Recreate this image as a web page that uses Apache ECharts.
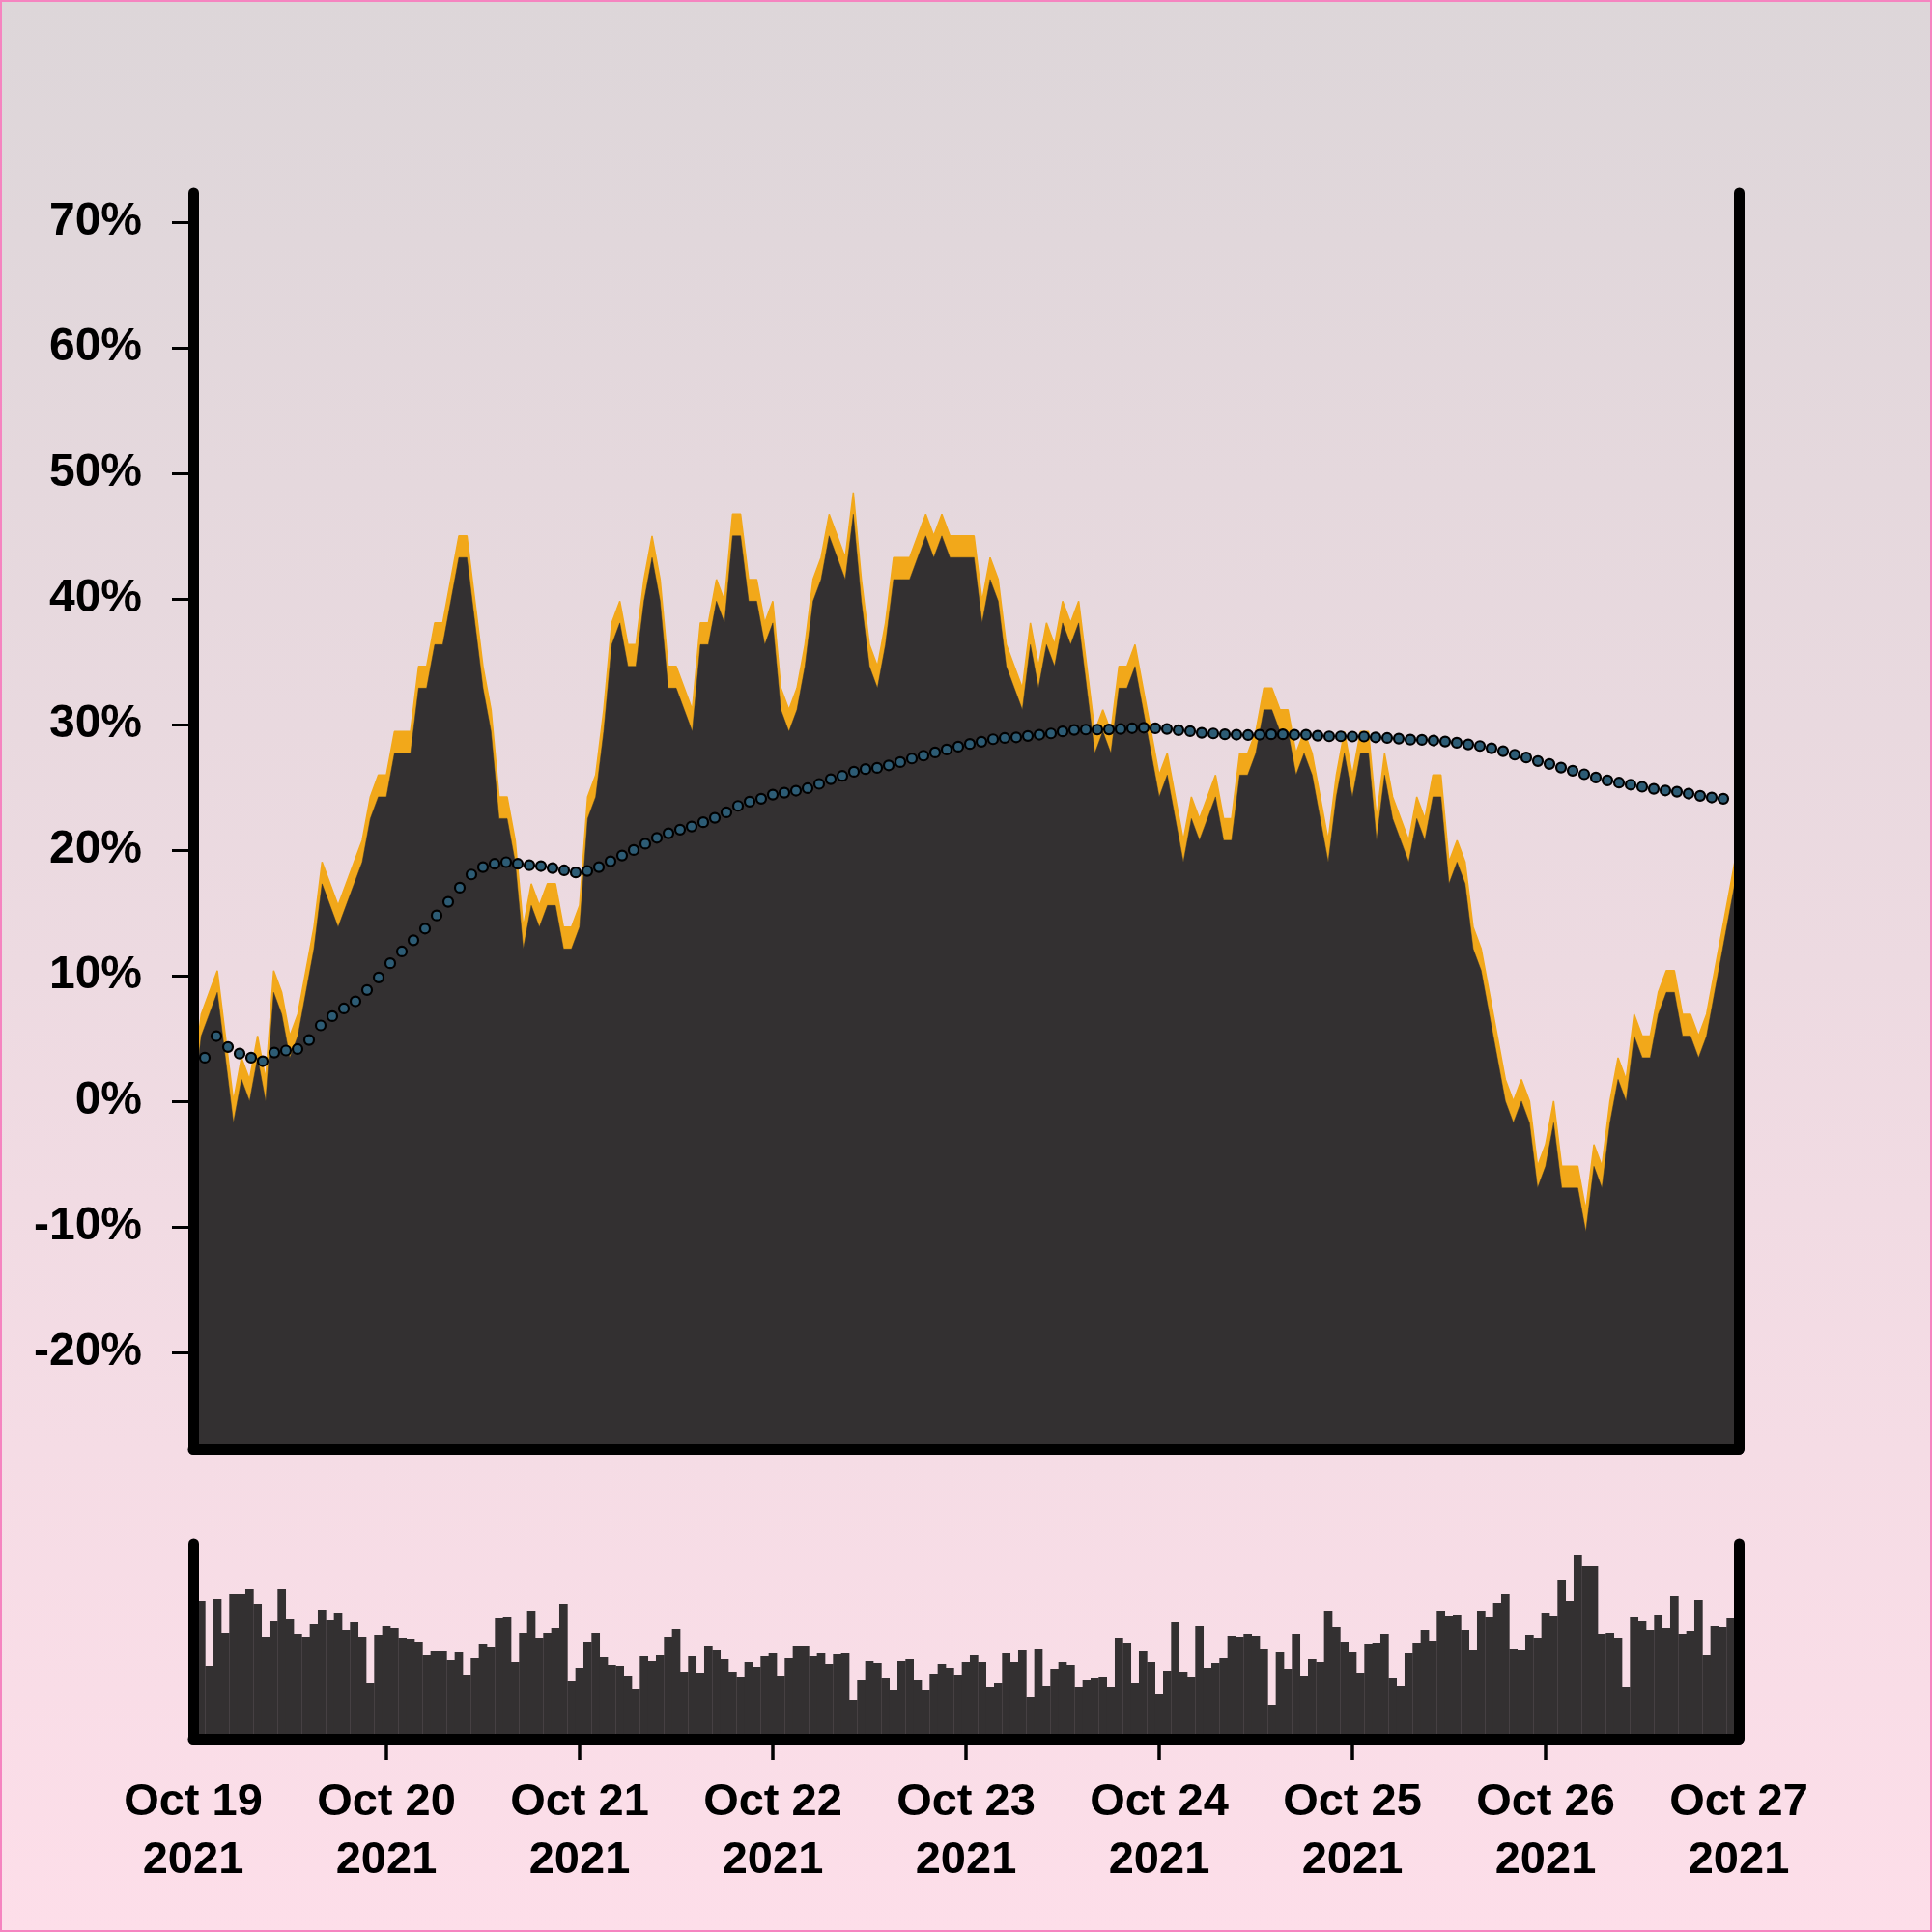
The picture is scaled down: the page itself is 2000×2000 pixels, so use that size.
<!DOCTYPE html>
<html><head><meta charset="utf-8">
<script src="https://cdn.jsdelivr.net/npm/echarts@6/dist/echarts.min.js"></script>
<style>html,body{margin:0;padding:0;background:#fff}#c{width:2000px;height:2000px}</style>
</head><body><div id="c"></div>
<script>
// x positions are hours since Oct 19 2021 00:00
const dayTickLabels = ['Oct 19\n2021','Oct 20\n2021','Oct 21\n2021','Oct 22\n2021','Oct 23\n2021','Oct 24\n2021','Oct 25\n2021','Oct 26\n2021','Oct 27\n2021'];
const dayTickHours = [0,24,48,72,96,120,144,168,192];
const yTickValues = [-20,-10,0,10,20,30,40,50,60,70];

// hourly upper edge (orange) in % change
const priceHigh = [
1.73,6.92,8.66,10.39,5.19,0,3.46,1.73,5.19,1.73,
10.39,8.66,5.19,6.92,10.39,13.85,19.04,17.31,15.58,17.31,
19.04,20.77,24.23,25.97,25.97,29.43,29.43,29.43,34.62,34.62,
38.08,38.08,41.54,45.01,45.01,39.81,34.62,31.16,24.23,24.23,
20.77,13.85,17.31,15.58,17.31,17.31,13.85,13.85,15.58,24.23,
25.97,31.16,38.08,39.81,36.35,36.35,41.54,45.01,41.54,34.62,
34.62,32.89,31.16,38.08,38.08,41.54,39.81,46.74,46.74,41.54,
41.54,38.08,39.81,32.89,31.16,32.89,36.35,41.54,43.28,46.74,
45.01,43.28,48.47,41.54,36.35,34.62,38.08,43.28,43.28,43.28,
45.01,46.74,45.01,46.74,45.01,45.01,45.01,45.01,39.81,43.28,
41.54,36.35,34.62,32.89,38.08,34.62,38.08,36.35,39.81,38.08,
39.81,34.62,29.43,31.16,29.43,34.62,34.62,36.35,32.89,29.43,
25.97,27.70,24.23,20.77,24.23,22.50,24.23,25.97,22.50,22.50,
27.70,27.70,29.43,32.89,32.89,31.16,31.16,27.70,29.43,27.70,
24.23,20.77,25.97,29.43,25.97,29.43,29.43,22.50,27.70,24.23,
22.50,20.77,24.23,22.50,25.97,25.97,19.04,20.77,19.04,13.85,
12.12,8.66,5.19,1.73,0,1.73,0,-5.19,-3.46,0,
-5.19,-5.19,-5.19,-8.66,-3.46,-5.19,0,3.46,1.73,6.92,
5.19,5.19,8.66,10.39,10.39,6.92,6.92,5.19,6.92,10.39,
13.85,17.31,20.77
];
// hourly lower edge (dark area) in % change
const priceClose = [
0,5.19,6.92,8.66,3.46,-1.73,1.73,0,3.46,0,
8.66,6.92,3.46,5.19,8.66,12.12,17.31,15.58,13.85,15.58,
17.31,19.04,22.50,24.23,24.23,27.70,27.70,27.70,32.89,32.89,
36.35,36.35,39.81,43.28,43.28,38.08,32.89,29.43,22.50,22.50,
19.04,12.12,15.58,13.85,15.58,15.58,12.12,12.12,13.85,22.50,
24.23,29.43,36.35,38.08,34.62,34.62,39.81,43.28,39.81,32.89,
32.89,31.16,29.43,36.35,36.35,39.81,38.08,45.01,45.01,39.81,
39.81,36.35,38.08,31.16,29.43,31.16,34.62,39.81,41.54,45.01,
43.28,41.54,46.74,39.81,34.62,32.89,36.35,41.54,41.54,41.54,
43.28,45.01,43.28,45.01,43.28,43.28,43.28,43.28,38.08,41.54,
39.81,34.62,32.89,31.16,36.35,32.89,36.35,34.62,38.08,36.35,
38.08,32.89,27.70,29.43,27.70,32.89,32.89,34.62,31.16,27.70,
24.23,25.97,22.50,19.04,22.50,20.77,22.50,24.23,20.77,20.77,
25.97,25.97,27.70,31.16,31.16,29.43,29.43,25.97,27.70,25.97,
22.50,19.04,24.23,27.70,24.23,27.70,27.70,20.77,25.97,22.50,
20.77,19.04,22.50,20.77,24.23,24.23,17.31,19.04,17.31,12.12,
10.39,6.92,3.46,0,-1.73,0,-1.73,-6.92,-5.19,-1.73,
-6.92,-6.92,-6.92,-10.39,-5.19,-6.92,-1.73,1.73,0,5.19,
3.46,3.46,6.92,8.66,8.66,5.19,5.19,3.46,5.19,8.66,
12.12,15.58,19.04
];
// hourly volume (arbitrary units)
const volume = [
140,143,75,145,110,150,150,155,140,105,
122,155,124,108,105,119,133,123,130,113,
121,105,58,107,117,115,104,103,100,87,
91,91,82,90,66,84,98,95,125,126,
80,110,132,104,110,115,140,60,73,100,
110,85,76,75,65,52,86,81,87,105,
114,69,86,68,96,92,83,69,64,79,
74,86,89,65,84,96,96,86,89,77,
88,89,40,61,81,78,63,50,81,83,
61,50,67,77,73,66,80,87,80,54,
58,89,80,92,43,93,55,72,80,76,
54,61,63,64,54,104,99,58,91,80,
46,70,121,69,64,117,73,78,84,106,
105,108,106,93,35,90,72,109,65,83,
80,132,116,100,90,68,98,99,108,63,
55,89,99,113,101,132,127,128,113,92,
132,126,141,150,93,92,107,104,130,127,
164,143,190,179,179,109,110,104,54,126,
122,113,128,115,148,108,112,144,87,117,
116,125,115
];
// moving average dots, one every 1.44 h starting at 1.44 h
const maValues = [
3.46,5.18,4.31,3.79,3.46,3.18,3.87,4.03,4.15,4.87,
6.03,6.77,7.38,7.95,8.85,9.85,10.98,11.92,12.81,13.74,
14.79,15.87,17.0,18.05,18.64,18.9,19.03,18.9,18.79,18.72,
18.56,18.38,18.21,18.33,18.64,19.1,19.56,20.0,20.5,20.97,
21.33,21.62,21.87,22.21,22.56,23.0,23.51,23.85,24.08,24.41,
24.56,24.72,24.92,25.26,25.64,25.9,26.23,26.44,26.54,26.74,
27.0,27.28,27.51,27.77,28.0,28.23,28.44,28.62,28.82,28.92,
28.97,29.08,29.18,29.28,29.44,29.56,29.59,29.59,29.6,29.63,
29.7,29.74,29.69,29.64,29.54,29.46,29.33,29.28,29.21,29.18,
29.15,29.18,29.21,29.21,29.18,29.18,29.1,29.05,29.05,29.03,
29.03,28.97,28.92,28.87,28.79,28.77,28.72,28.64,28.54,28.41,
28.28,28.1,27.87,27.59,27.36,27.08,26.85,26.56,26.31,26.03,
25.77,25.54,25.36,25.2,25.03,24.87,24.74,24.64,24.49,24.31,
24.18,24.08
];
const MA_STEP_HOURS = 1.44;

const ORANGE = '#f2a81a', DARK = '#333031', INK = '#000';
const FONT = "'Liberation Sans', Arial, Helvetica, sans-serif";

const hiData = priceHigh.map((v, i) => [i, v]);
const loData = priceClose.map((v, i) => [i, v]);
const volData = volume.map((v, i) => [i, v]);
const maData = maValues.map((v, j) => [(j + 1) * MA_STEP_HOURS, v]);

const axisLine = {show: true, onZero: false, lineStyle: {color: INK, width: 11, cap: 'round'}};

const chart = echarts.init(document.getElementById('c'), null, {renderer: 'canvas'});
chart.setOption({
  animation: false,
  backgroundColor: new echarts.graphic.LinearGradient(0, 0, 0, 1, [
    {offset: 0, color: '#ddd6d9'}, {offset: 1, color: '#fddee9'}]),
  graphic: [{type: 'rect', z: 100, shape: {x: 1, y: 1, width: 1998, height: 1998},
    style: {fill: 'none', stroke: '#f584c0', lineWidth: 2}}],
  grid: [
    {left: 200, right: 200, top: 200, bottom: 500},
    {left: 200, right: 200, top: 1598, bottom: 200}
  ],
  xAxis: [
    {type: 'value', gridIndex: 0, min: 0, max: 192, interval: 24, z: 10,
      axisLine: axisLine, axisTick: {show: false}, axisLabel: {show: false}, splitLine: {show: false}},
    {type: 'value', gridIndex: 1, min: 0, max: 192, interval: 24, z: 10,
      axisLine: axisLine,
      axisTick: {show: true, length: 22, customValues: dayTickHours.slice(1, -1),
        lineStyle: {color: INK, width: 3.5}},
      axisLabel: {show: true, customValues: dayTickHours, showMinLabel: true, showMaxLabel: true, margin: 36,
        color: INK, fontSize: 47, fontWeight: 'bold', fontFamily: FONT, lineHeight: 60,
        formatter: v => dayTickLabels[dayTickHours.indexOf(Math.round(v))] || ''},
      splitLine: {show: false}}
  ],
  yAxis: [
    {type: 'value', gridIndex: 0, position: 'left', min: -27.7, max: 72.3, z: 10,
      axisLine: axisLine,
      axisTick: {show: true, length: 22, customValues: yTickValues, lineStyle: {color: INK, width: 3}},
      axisLabel: {show: true, customValues: yTickValues, margin: 53, color: INK, fontSize: 48,
        fontWeight: 'bold', fontFamily: FONT, formatter: v => v + '%'},
      splitLine: {show: false}},
    {type: 'value', gridIndex: 0, position: 'right', min: -27.7, max: 72.3, z: 10,
      axisLine: axisLine, axisTick: {show: false}, axisLabel: {show: false}, splitLine: {show: false}},
    {type: 'value', gridIndex: 1, position: 'left', min: 0, max: 202, z: 10,
      axisLine: axisLine, axisTick: {show: false}, axisLabel: {show: false}, splitLine: {show: false}},
    {type: 'value', gridIndex: 1, position: 'right', min: 0, max: 202, z: 10,
      axisLine: axisLine, axisTick: {show: false}, axisLabel: {show: false}, splitLine: {show: false}}
  ],
  series: [
    {name: 'high', type: 'line', xAxisIndex: 0, yAxisIndex: 0, data: hiData, z: 2,
      showSymbol: false, symbol: 'none', lineStyle: {color: ORANGE, width: 1.5},
      areaStyle: {color: ORANGE, opacity: 1, origin: 'start'}},
    {name: 'close', type: 'line', xAxisIndex: 0, yAxisIndex: 0, data: loData, z: 3,
      showSymbol: false, symbol: 'none', lineStyle: {color: DARK, width: 0.5},
      areaStyle: {color: DARK, opacity: 1, origin: 'start'}},
    {name: 'ma', type: 'scatter', xAxisIndex: 0, yAxisIndex: 0, data: maData, z: 4,
      symbol: 'circle', symbolSize: 10,
      itemStyle: {color: '#2d5c75', borderColor: '#000', borderWidth: 2.2, opacity: 1}},
    {name: 'volume', type: 'bar', xAxisIndex: 1, yAxisIndex: 2, data: volData, z: 2,
      barWidth: 8.7, itemStyle: {color: DARK}}
  ]
});
</script></body></html>
